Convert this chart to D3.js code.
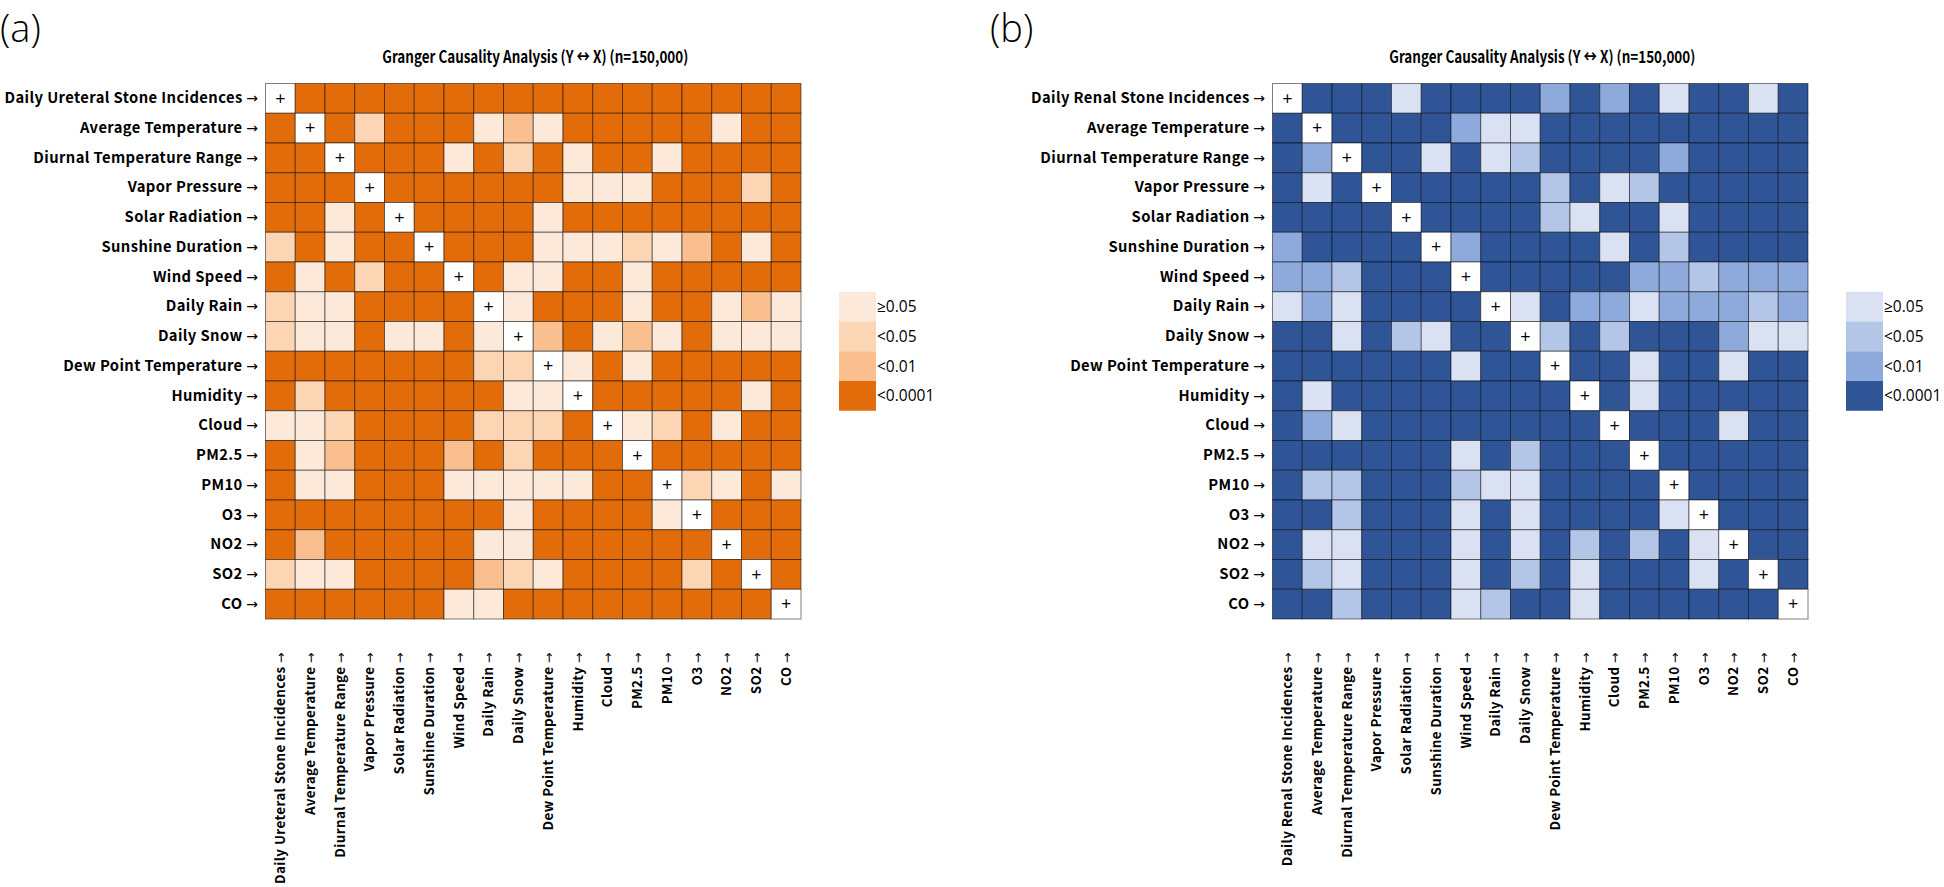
<!DOCTYPE html>
<html>
<head>
<meta charset="utf-8">
<script src="https://cdn.jsdelivr.net/npm/d3@7"></script>
<style>
  html, body { margin: 0; padding: 0; background: #fff; }
  svg { display: block; font-family: "Open Sans", "Noto Sans", sans-serif; }
</style>
</head>
<body>
<svg id="chart" width="1944" height="887"></svg>
<script>
// ---------------- DATA ----------------
const categoriesA = ["Daily Ureteral Stone Incidences", "Average Temperature", "Diurnal Temperature Range",
  "Vapor Pressure", "Solar Radiation", "Sunshine Duration", "Wind Speed", "Daily Rain", "Daily Snow",
  "Dew Point Temperature", "Humidity", "Cloud", "PM2.5", "PM10", "O3", "NO2", "SO2", "CO"];
const categoriesB = ["Daily Renal Stone Incidences", "Average Temperature", "Diurnal Temperature Range",
  "Vapor Pressure", "Solar Radiation", "Sunshine Duration", "Wind Speed", "Daily Rain", "Daily Snow",
  "Dew Point Temperature", "Humidity", "Cloud", "PM2.5", "PM10", "O3", "NO2", "SO2", "CO"];

// significance level per cell: 0 = <0.0001, 1 = <0.01, 2 = <0.05, 3 = >=0.05, -1 = diagonal (+)
const matrixA = [
  [-1,0,0,0,0,0,0,0,0,0,0,0,0,0,0,0,0,0],
  [0,-1,0,2,0,0,0,3,1,3,0,0,0,0,0,3,0,0],
  [0,0,-1,0,0,0,3,0,2,0,3,0,0,3,0,0,0,0],
  [0,0,0,-1,0,0,0,0,0,0,3,3,3,0,0,0,2,0],
  [0,0,3,0,-1,0,0,0,0,3,0,0,0,0,0,0,0,0],
  [2,0,3,0,0,-1,0,0,0,3,3,3,2,3,1,0,3,0],
  [0,3,0,2,0,0,-1,0,3,3,0,0,3,0,0,0,0,0],
  [2,3,3,0,0,0,0,-1,3,0,0,0,3,0,0,3,1,3],
  [2,3,3,0,3,3,0,3,-1,1,0,3,1,3,0,3,3,3],
  [0,0,0,0,0,0,0,2,2,-1,3,0,3,0,0,0,0,0],
  [0,2,0,0,0,0,0,0,3,3,-1,0,0,0,0,0,3,0],
  [3,3,2,0,0,0,0,2,2,2,0,-1,3,2,0,3,0,0],
  [0,3,1,0,0,0,1,0,2,0,0,0,-1,0,0,0,0,0],
  [0,3,3,0,0,0,3,3,3,3,3,0,0,-1,2,3,0,3],
  [0,0,0,0,0,0,0,0,3,0,0,0,0,3,-1,0,0,0],
  [0,1,0,0,0,0,0,3,3,0,0,0,0,0,0,-1,0,0],
  [2,3,3,0,0,0,0,1,2,3,0,0,0,0,2,0,-1,0],
  [0,0,0,0,0,0,3,3,0,0,0,0,0,0,0,0,0,-1]
];
const matrixB = [
  [-1,0,0,0,3,0,0,0,0,1,0,1,0,3,0,0,3,0],
  [0,-1,0,0,0,0,1,3,3,0,0,0,0,0,0,0,0,0],
  [0,1,-1,0,0,3,0,3,2,0,0,0,0,1,0,0,0,0],
  [0,3,0,-1,0,0,0,0,0,2,0,3,2,0,0,0,0,0],
  [0,0,0,0,-1,0,0,0,0,2,3,0,0,3,0,0,0,0],
  [1,0,0,0,0,-1,1,0,0,0,0,3,0,2,0,0,0,0],
  [1,1,2,0,0,0,-1,0,0,0,0,0,1,1,2,1,1,1],
  [3,1,3,0,0,0,0,-1,3,0,1,1,3,1,1,1,2,1],
  [0,0,3,0,2,3,0,0,-1,2,0,2,0,0,0,1,3,3],
  [0,0,0,0,0,0,3,0,0,-1,0,0,3,0,0,3,0,0],
  [0,3,0,0,0,0,0,0,0,0,-1,0,3,0,0,0,0,0],
  [0,1,3,0,0,0,0,0,0,0,0,-1,0,0,0,3,0,0],
  [0,0,0,0,0,0,3,0,2,0,0,0,-1,0,0,0,0,0],
  [0,2,2,0,0,0,2,3,3,0,0,0,0,-1,0,0,0,0],
  [0,0,2,0,0,0,3,0,3,0,0,0,0,3,-1,0,0,0],
  [0,3,3,0,0,0,3,0,3,0,2,0,2,0,3,-1,0,0],
  [0,2,3,0,0,0,3,0,2,0,3,0,0,0,3,0,-1,0],
  [0,0,2,0,0,0,3,2,0,0,3,0,0,0,0,0,0,-1]
];

const legendLabels = ["\u22650.05", "<0.05", "<0.01", "<0.0001"];
const legendLevels = [3, 2, 1, 0];
const colorsA = ["#E26B0A", "#FABF8F", "#FCD5B4", "#FDE9D9"]; // index = level
const colorsB = ["#2F5597", "#8EA9DB", "#B4C6E7", "#D9E1F2"];
const titleText = "Granger Causality Analysis (Y \u2194 X) (n=150,000)";
const panelLetters = ["(a)", "(b)"];

// ---------------- DRAW ----------------
const svg = d3.select("#chart");
const gridTop = 83.5, gridSize = 535.5;
const labelFont = "'Noto Sans CJK KR', 'Noto Sans', sans-serif";
const labelSpacing = 0.4;

function styleLabel(sel, size) {
  sel.each(function (d) {
    const t = d3.select(this);
    t.text(null);
    t.append("tspan").attr("class", "lbl").text(d + " ");
    t.append("tspan").attr("class", "arr").attr("font-family", "'DejaVu Sans', sans-serif")
      .attr("font-weight", "normal").text("\u2192");
  });
  sel.attr("font-weight", "bold").attr("fill", "#000")
    .attr("font-family", labelFont).attr("letter-spacing", labelSpacing);
  setSize(sel, size);
}
function setSize(sel, size) {
  sel.attr("font-size", size);
  sel.selectAll("tspan.arr").attr("font-size", size * 0.95);
}
// find a font size for which the rendered label has the wanted length
function fitSize(label, target, vertical) {
  const t = svg.append("text").datum(label);
  let size = 15;
  styleLabel(t, size);
  if (vertical) t.attr("transform", "rotate(-90)");
  for (let k = 0; k < 4; k++) {
    const r = t.node().getBoundingClientRect();
    const len = vertical ? r.height : r.width;
    if (len > 0) size = size * target / len;
    setSize(t, size);
  }
  t.remove();
  return size;
}
const ySize = fitSize(categoriesA[0], 254, false);
const xSize = fitSize(categoriesA[0], 232, true);

const panels = [
  { cats: categoriesA, matrix: matrixA, colors: colorsA, x0: 265.5, letter: panelLetters[0], letterX: 0 },
  { cats: categoriesB, matrix: matrixB, colors: colorsB, x0: 1272.5, letter: panelLetters[1], letterX: 990 }
];

panels.forEach(p => {
  const g = svg.append("g");
  const x = d3.scaleBand().domain(p.cats).range([p.x0, p.x0 + gridSize]);
  const y = d3.scaleBand().domain(p.cats).range([gridTop, gridTop + gridSize]);
  const color = d3.scaleOrdinal().domain([0, 1, 2, 3]).range(p.colors);

  // panel letter
  g.append("text").attr("x", p.letterX).attr("y", 42)
    .attr("font-size", 38).attr("font-weight", 300).attr("fill", "#000").text(p.letter);

  // title
  g.append("text").attr("x", p.x0 + gridSize / 2 + 2).attr("y", 63)
    .attr("text-anchor", "middle").attr("font-size", 16.5).attr("font-weight", "bold")
    .attr("font-family", labelFont)
    .attr("textLength", 306).attr("lengthAdjust", "spacingAndGlyphs")
    .attr("fill", "#000").text(titleText);

  // cells
  const cells = [];
  p.matrix.forEach((row, i) => row.forEach((v, j) => cells.push({ r: p.cats[i], c: p.cats[j], v })));

  g.append("g").selectAll("rect").data(cells).join("rect")
    .attr("x", d => x(d.c)).attr("y", d => y(d.r))
    .attr("width", x.bandwidth()).attr("height", y.bandwidth())
    .attr("fill", d => d.v < 0 ? "#ffffff" : color(d.v))
    .attr("stroke", "#000").attr("stroke-opacity", 0.5).attr("stroke-width", 1);

  g.append("g").selectAll("text").data(cells.filter(d => d.v < 0)).join("text")
    .attr("x", d => x(d.c) + x.bandwidth() / 2).attr("y", d => y(d.r) + y.bandwidth() / 2)
    .attr("dy", "0.35em").attr("text-anchor", "middle").attr("font-size", 18)
    .attr("fill", "#000").text("+");

  // y axis labels
  const yAxis = g.append("g").attr("transform", `translate(${p.x0},0)`)
    .call(d3.axisLeft(y).tickSize(0).tickPadding(7));
  yAxis.select(".domain").remove();
  yAxis.selectAll("text").call(styleLabel, ySize);

  // x axis labels
  const xAxis = g.append("g").attr("transform", `translate(0,${gridTop + gridSize})`)
    .call(d3.axisBottom(x).tickSize(0));
  xAxis.select(".domain").remove();
  xAxis.selectAll("text").call(styleLabel, xSize);
  xAxis.selectAll("text")
    .attr("transform", "rotate(-90)")
    .attr("text-anchor", "end")
    .attr("x", -33).attr("y", 0).attr("dy", "0.35em");

  // legend
  const lx = p.x0 + gridSize + 38;
  const cellH = y.bandwidth();
  const ly = d3.scaleBand().domain(legendLabels)
    .range([gridTop + gridSize / 2 - 2 * cellH, gridTop + gridSize / 2 + 2 * cellH]);
  const lg = g.append("g");
  lg.selectAll("rect").data(legendLabels).join("rect")
    .attr("x", lx).attr("y", d => ly(d)).attr("width", 37).attr("height", ly.bandwidth())
    .attr("fill", (d, i) => color(legendLevels[i]));
  lg.selectAll("text").data(legendLabels).join("text")
    .attr("x", lx + 38).attr("y", d => ly(d) + ly.bandwidth() / 2).attr("dy", "0.35em")
    .attr("font-size", 15.5).attr("fill", "#000").text(d => d);
});
</script>
</body>
</html>
